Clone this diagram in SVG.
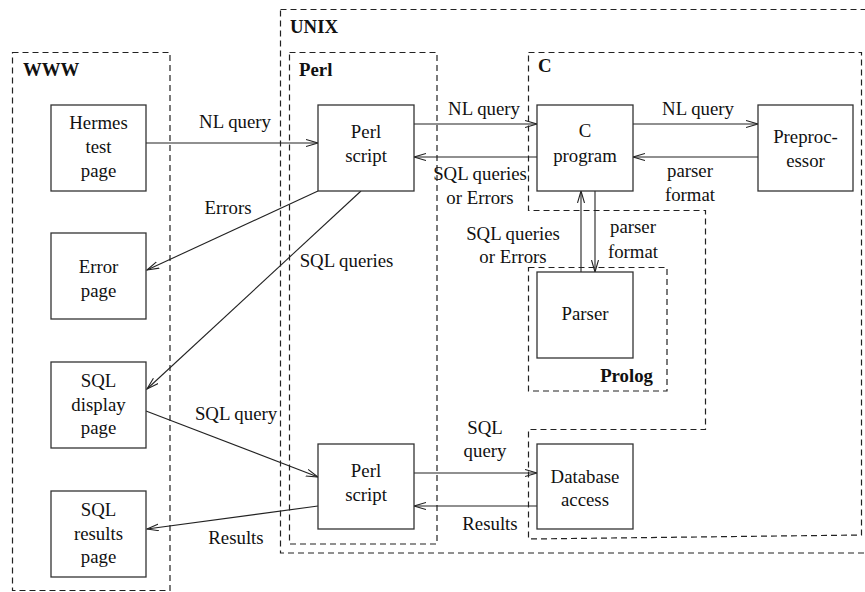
<svg xmlns="http://www.w3.org/2000/svg" width="865" height="592" viewBox="0 0 865 592">
<style>
.reg{fill:none;stroke:#222;stroke-width:1.2;stroke-dasharray:6 4}
.box{fill:#fff;stroke:#333;stroke-width:1.3}
.t{font-family:"Liberation Serif","Times New Roman",serif;font-size:18.8px;fill:#111;text-anchor:middle}
.b{font-family:"Liberation Serif","Times New Roman",serif;font-size:18.8px;font-weight:bold;fill:#111}
.c{fill:none;stroke:#222;stroke-width:1.1;marker-end:url(#ah)}
</style>
<defs>
<marker id="ah" markerUnits="userSpaceOnUse" markerWidth="14" markerHeight="10" refX="12" refY="4" orient="auto">
<path d="M0,0.5 L12,4 L0,7.5" fill="none" stroke="#222" stroke-width="1.1"/>
</marker>
</defs>
<rect width="865" height="592" fill="#fff"/>
<g id="regions">
<rect id="www" class="reg" x="12.5" y="52.5" width="157.5" height="538"/>
<text class="b" x="23" y="76">WWW</text>
<rect id="unix" class="reg" x="280.5" y="9.5" width="590" height="543.5"/>
<text class="b" x="290" y="33">UNIX</text>
<rect id="perl" class="reg" x="289.5" y="52.5" width="147.5" height="491.5"/>
<text class="b" x="299" y="76">Perl</text>
<path id="cregion" class="reg" d="M528.5,52.5 L861.5,52.5 L861.5,535 L528.5,539 L528.5,429.5 L705.5,429.5 L705.5,210.5 L528.5,210.5 Z"/>
<text class="b" x="538" y="72">C</text>
<rect id="prolog" class="reg" x="528.5" y="267.5" width="138.5" height="123.5"/>
<text class="b" x="653" y="382" text-anchor="end">Prolog</text>
</g>
<g id="connectors">
<path class="c" d="M146,143 L318,143"/>
<path class="c" d="M414,124 L537,124"/>
<path class="c" d="M537,157 L414,157"/>
<path class="c" d="M633,124 L758,124"/>
<path class="c" d="M758,157 L633,157"/>
<path class="c" d="M581,272 L581,191"/>
<path class="c" d="M595,191 L595,272"/>
<path class="c" d="M318,191 L147,270"/>
<path class="c" d="M361,191 L147,389"/>
<path class="c" d="M146,411 L318,477"/>
<path class="c" d="M318,506 L147,529"/>
<path class="c" d="M414,473 L537,473"/>
<path class="c" d="M537,506 L414,506"/>
<text class="t" x="235" y="128">NL query</text>
<text class="t" x="228" y="214">Errors</text>
<text class="t" x="346.5" y="267">SQL queries</text>
<text class="t" x="484" y="115">NL query</text>
<text class="t" x="480" y="180">SQL queries</text>
<text class="t" x="480" y="204">or Errors</text>
<text class="t" x="698" y="115">NL query</text>
<text class="t" x="690" y="177">parser</text>
<text class="t" x="690" y="201">format</text>
<text class="t" x="513" y="240">SQL queries</text>
<text class="t" x="513" y="263">or Errors</text>
<text class="t" x="633" y="233">parser</text>
<text class="t" x="633" y="258">format</text>
<text class="t" x="236" y="420">SQL query</text>
<text class="t" x="236" y="544">Results</text>
<text class="t" x="485" y="434">SQL</text>
<text class="t" x="485" y="457">query</text>
<text class="t" x="490" y="530">Results</text>
</g>
<g id="hermes">
<rect class="box" x="51" y="105" width="95" height="86"/>
<text class="t" x="98.5" y="129">Hermes</text>
<text class="t" x="98.5" y="153">test</text>
<text class="t" x="98.5" y="177">page</text>
</g>
<g id="error-page">
<rect class="box" x="51" y="233" width="95" height="86"/>
<text class="t" x="98.5" y="273">Error</text>
<text class="t" x="98.5" y="297">page</text>
</g>
<g id="sql-display">
<rect class="box" x="51" y="362" width="95" height="86"/>
<text class="t" x="98.5" y="387">SQL</text>
<text class="t" x="98.5" y="411">display</text>
<text class="t" x="98.5" y="434">page</text>
</g>
<g id="sql-results">
<rect class="box" x="51" y="491" width="95" height="86"/>
<text class="t" x="98.5" y="516">SQL</text>
<text class="t" x="98.5" y="540">results</text>
<text class="t" x="98.5" y="563">page</text>
</g>
<g id="perl-script-1">
<rect class="box" x="318" y="105" width="96" height="86"/>
<text class="t" x="366" y="138">Perl</text>
<text class="t" x="366" y="162">script</text>
</g>
<g id="perl-script-2">
<rect class="box" x="318" y="444" width="96" height="85"/>
<text class="t" x="366" y="477">Perl</text>
<text class="t" x="366" y="501">script</text>
</g>
<g id="c-program">
<rect class="box" x="537" y="105" width="96" height="86"/>
<text class="t" x="585" y="137">C</text>
<text class="t" x="585" y="162">program</text>
</g>
<g id="preprocessor">
<rect class="box" x="758" y="105" width="95" height="86"/>
<text class="t" x="805.5" y="143">Preproc-</text>
<text class="t" x="805.5" y="167">essor</text>
</g>
<g id="parser">
<rect class="box" x="537" y="272" width="96" height="86"/>
<text class="t" x="585" y="320">Parser</text>
</g>
<g id="database">
<rect class="box" x="537" y="444" width="96" height="85"/>
<text class="t" x="585" y="483">Database</text>
<text class="t" x="585" y="506">access</text>
</g>
</svg>
